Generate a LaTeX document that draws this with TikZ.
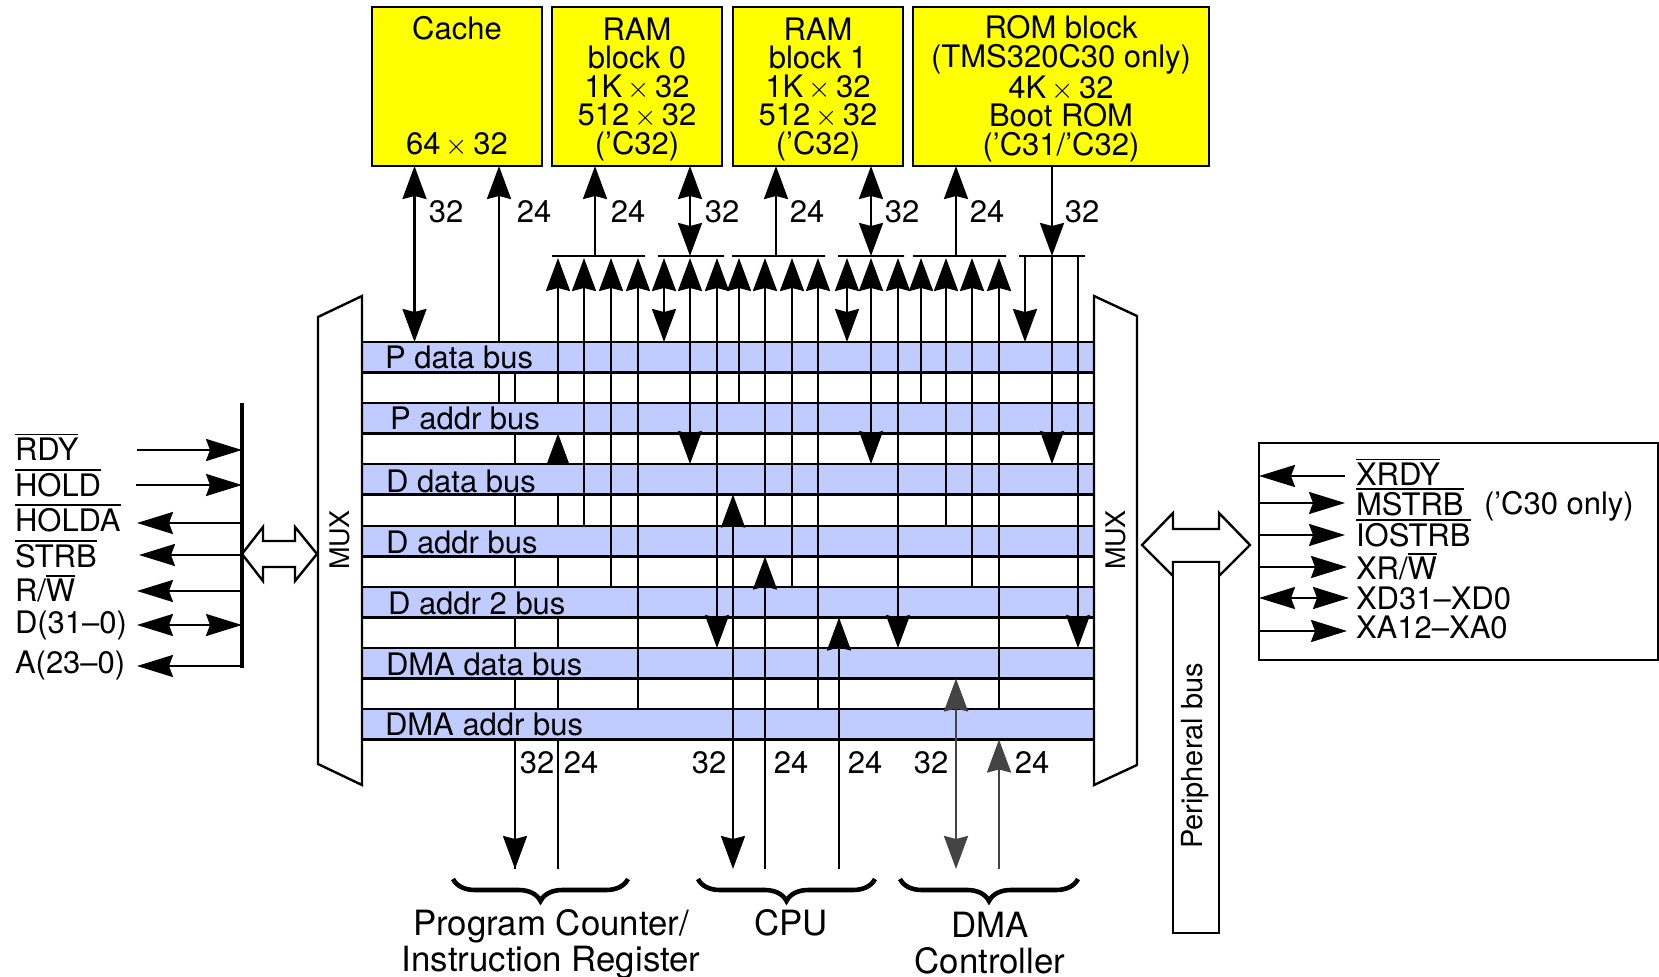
\documentclass[tikz,border=0pt]{standalone}
\usepackage{fontspec}
\setmainfont{TeX Gyre Heros}
\usetikzlibrary{arrows.meta,backgrounds,decorations.pathreplacing}
\definecolor{busblue}{RGB}{192,204,255}
\definecolor{dmagray}{RGB}{68,68,68}
\definecolor{memyellow}{RGB}{255,255,0}
\newcommand{\ovl}[1]{\leavevmode\vbox{\hrule height 0.8pt\kern 1.2pt\hbox{#1}}}
\newcommand{\blockstrut}{\rule{0pt}{13.8pt}}
\newcommand{\bytimes}{\,$\times$\,}
\begin{document}
\begin{tikzpicture}[
	x=0.5pt, y=-0.5pt, line width=1.2pt,
	>={Stealth[length=16.5pt,width=12pt,inset=1.5pt]},
	every node/.style={font=\fontsize{15.5}{14.25}\selectfont, inner sep=0pt, outer sep=0pt},
	memblock/.style={draw, fill=memyellow, align=center, minimum height=79.5pt},
	busbar/.style={draw, fill=busblue, minimum width=366pt, minimum height=15.25pt, anchor=north west},
	buslabel/.style={anchor=west},
	tapbar/.style={draw, line width=0.9pt, minimum height=0pt},
	toptap/.style={shorten >=1pt},
	backline/.style={line width=1.2pt},
	sig/.style={>={Stealth[length=18pt,width=11pt,inset=2pt]}},
	siglabel/.style={anchor=west},
	caption/.style={font=\fontsize{17.4}{18}\selectfont, align=center},
	dmaline/.style={draw=dmagray, color=dmagray},
	bracket/.style={decorate, decoration={brace, mirror, amplitude=11pt}, line width=2.3pt}
	]
	\useasboundingbox (0,0) rectangle (1659,977);
	
	% 1. MEMORY BLOCKS
	\node[memblock, minimum width=85pt] (cache) at (457,86.5) {Cache\\[43.5pt]64\bytimes 32};
	\node[memblock, minimum width=85pt] (ram0) at (637,86.5) {\blockstrut RAM\\block 0\\1K\bytimes 32\\512\bytimes 32\\('C32)};
	\node[memblock, minimum width=85pt] (ram1) at (818,86.5) {\blockstrut RAM\\block 1\\1K\bytimes 32\\512\bytimes 32\\('C32)};
	\node[memblock, minimum width=148pt] (rom) at (1061,86.5) {\blockstrut ROM block\\(TMS320C30 only)\\4K\bytimes 32\\Boot ROM\\('C31/'C32)};
	
	% 2. BUSES
	\node[busbar] (pdata) at (362,342) {};
	\node[busbar] (paddr) at (362,403) {};
	\node[busbar] (ddata) at (362,464) {};
	\node[busbar] (daddr) at (362,526) {};
	\node[busbar] (dtwo) at (362,587) {};
	\node[busbar] (dmadata) at (362,648) {};
	\node[busbar] (dmaaddr) at (362,709) {};
	\node[buslabel] (pdatatxt) at (385,357) {P data bus};
	\node[buslabel] (paddrtxt) at (390,418) {P addr bus};
	\node[buslabel] (ddatatxt) at (386,481) {D data bus};
	\node[buslabel] (daddrtxt) at (386,542) {D addr bus};
	\node[buslabel] (dtwotxt) at (388,603) {D addr 2 bus};
	\node[buslabel] (dmadatatxt) at (386,664) {DMA data bus};
	\node[buslabel] (dmaaddrtxt) at (385,724) {DMA addr bus};
	
	% 3. BARS UNDER THE MEMORY BLOCKS
	\node[tapbar, minimum width=46.5pt] (bara) at (598.5,256) {};
	\node[tapbar, minimum width=33pt] (barb) at (691,256) {};
	\node[tapbar, minimum width=46.5pt] (barc) at (778.5,256) {};
	\node[tapbar, minimum width=33pt] (bard) at (871,256) {};
	\node[tapbar, minimum width=46.5pt] (bare) at (959.5,256) {};
	\node[tapbar, minimum width=33pt] (barf) at (1052,256) {};
	\coordinate (base) at (0,869);
	
	% 4. LINES BEHIND THE BUSES
	\begin{scope}[on background layer]
		\draw[backline] (499,0 |- pdata.south) -- (499,0 |- paddr.north);
		\draw[backline] (515,0 |- base) -- (515,0 |- pdata.south);
		\draw[backline] (558,0 |- base) -- (558,0 |- ddata.north);
		\draw[backline, ->] (558,0 |- ddata.south) -- (558,0 |- paddr.south);
	\end{scope}
	
	% 5. LINES TO THE MEMORY BLOCKS
	\draw[<->] (414.5,0 |- cache.south) -- (414.5,0 |- pdata.north);
	\draw[->] (499,0 |- pdata.north) -- (499,0 |- cache.south);
	\draw[->] (595,0 |- bara.center) -- (595,0 |- ram0.south);
	\draw[<->] (690,0 |- ram0.south) -- (690,0 |- barb.center);
	\draw[->] (776,0 |- barc.center) -- (776,0 |- ram1.south);
	\draw[<->] (871,0 |- ram1.south) -- (871,0 |- bard.center);
	\draw[->] (956,0 |- bare.center) -- (956,0 |- rom.south);
	\draw[->] (1052,0 |- rom.south) -- (1052,0 |- barf.center);
	
	% 6. LINES FROM THE BARS DOWN TO THE BUSES
	\draw[->, toptap] (558,0 |- paddr.north) -- (558,0 |- bara.center);
	\draw[->, toptap] (584,0 |- daddr.north) -- (584,0 |- bara.center);
	\draw[->, toptap] (611,0 |- dtwo.north) -- (611,0 |- bara.center);
	\draw[->, toptap] (638,0 |- dmaaddr.north) -- (638,0 |- bara.center);
	\draw[<->, shorten <=1pt] (664,0 |- barb.center) -- (664,0 |- pdata.north);
	\draw[<->, shorten <=1pt] (690,0 |- barb.center) -- (690,0 |- ddata.north);
	\draw[<->, shorten <=1pt] (717,0 |- barb.center) -- (717,0 |- dmadata.north);
	\draw[->, toptap] (739,0 |- paddr.north) -- (739,0 |- barc.center);
	\draw[->, toptap] (765,0 |- daddr.north) -- (765,0 |- barc.center);
	\draw[->, toptap] (792,0 |- dtwo.north) -- (792,0 |- barc.center);
	\draw[->, toptap] (818,0 |- dmaaddr.north) -- (818,0 |- barc.center);
	\draw[<->, shorten <=1pt] (847,0 |- bard.center) -- (847,0 |- pdata.north);
	\draw[<->, shorten <=1pt] (871,0 |- bard.center) -- (871,0 |- ddata.north);
	\draw[<->, shorten <=1pt] (898,0 |- bard.center) -- (898,0 |- dmadata.north);
	\draw[->, toptap] (921,0 |- paddr.north) -- (921,0 |- bare.center);
	\draw[->, toptap] (946,0 |- daddr.north) -- (946,0 |- bare.center);
	\draw[->, toptap] (972,0 |- dtwo.north) -- (972,0 |- bare.center);
	\draw[->, toptap] (999,0 |- dmaaddr.north) -- (999,0 |- bare.center);
	\draw[->] (1025,0 |- barf.center) -- (1025,0 |- pdata.north);
	\draw[->] (1052,0 |- barf.center) -- (1052,0 |- ddata.north);
	\draw[->] (1078,0 |- barf.center) -- (1078,0 |- dmadata.north);
	
	% 7. LINES FROM THE BOTTOM UNITS
	\draw[<->] (733,0 |- base) -- (733,0 |- ddata.south);
	\draw[->] (765,0 |- base) -- (765,0 |- daddr.south);
	\draw[->] (839,0 |- base) -- (839,0 |- dtwo.south);
	\draw[<->, dmaline] (956,0 |- base) -- (956,0 |- dmadata.south);
	\draw[->, dmaline] (999,0 |- base) -- (999,0 |- dmaaddr.south);
	\draw[->] (515,0 |- dmaaddr.south) -- (515,0 |- base);
	
	% 8. WIDTH LABELS
	\node (ncache) at (446,212) {32};
	\node (npa) at (534,212) {24};
	\node (nra) at (628,212) {24};
	\node (nrb) at (722,212) {32};
	\node (nrc) at (807,212) {24};
	\node (nrd) at (902,212) {32};
	\node (nre) at (987,212) {24};
	\node (nrf) at (1082,212) {32};
	\node (nba) at (537,763) {32};
	\node (nbb) at (581,763) {24};
	\node (nbc) at (709,763) {32};
	\node (nbd) at (791,763) {24};
	\node (nbe) at (865,763) {24};
	\node (nbf) at (931,763) {32};
	\node (nbg) at (1032,763) {24};
	
	% 9. MUX AND DOUBLE ARROWS
	\draw[fill=white] (362,296) -- (318,317) -- (318,764) -- (362,785) -- cycle;
	\draw[fill=white] (1094,296) -- (1137,316) -- (1137,765) -- (1094,785) -- cycle;
	\node[rotate=90, font=\fontsize{13.5}{14}\selectfont] (muxl) at (340,540) {MUX};
	\node[rotate=90, font=\fontsize{13.5}{14}\selectfont] (muxr) at (1116,540) {MUX};
	\draw[fill=white] (242,554) -- (263,527) -- (263,541) -- (295,541) -- (295,527) -- (317,554) -- (295,581) -- (295,567) -- (263,567) -- (263,581) -- cycle;
	\draw[fill=white] (1142,545) -- (1173,513) -- (1173,529) -- (1219,529) -- (1219,513) -- (1250,545) -- (1219,576) -- (1219,562) -- (1173,562) -- (1173,576) -- cycle;
	\node[draw, fill=white, minimum width=23pt, minimum height=185.5pt] (perbus) at (1196,747.5) {};
	\node[rotate=90, font=\fontsize{14.5}{14}\selectfont] (perbustxt) at (1195,756) {Peripheral bus};
	
	% 10. LEFT SIGNALS
	\node[draw, minimum height=131.5pt] (leftbus) at (242,535.5) {};
	\node[siglabel] (rdy) at (15,447) {\ovl{RDY}};
	\node[siglabel] (hold) at (15,483) {\ovl{HOLD}};
	\node[siglabel] (holda) at (15,518) {\ovl{HOLDA}};
	\node[siglabel] (strb) at (15,554) {\ovl{STRB}};
	\node[siglabel] (rw) at (15,589) {R/\ovl{W}};
	\node[siglabel] (dbus) at (15,625) {D(31–0)};
	\node[siglabel] (abus) at (15,665) {A(23–0)};
	\coordinate (rdyin) at (137,450);
	\coordinate (holdin) at (136,485);
	\coordinate (holdaout) at (137,523);
	\coordinate (strbout) at (139,555);
	\coordinate (rwout) at (137,591);
	\coordinate (dout) at (137,625);
	\coordinate (aout) at (137,666);
	\draw[->, sig] (rdyin) -- (leftbus |- rdyin);
	\draw[->, sig] (holdin) -- (leftbus |- holdin);
	\draw[<-, sig] (holdaout) -- (leftbus |- holdaout);
	\draw[<-, sig] (strbout) -- (leftbus |- strbout);
	\draw[<-, sig] (rwout) -- (leftbus |- rwout);
	\draw[<->, sig] (dout) -- (leftbus |- dout);
	\draw[<-, sig] (aout) -- (leftbus |- aout);
	
	% 11. RIGHT SIGNALS
	\node[draw, minimum width=199.5pt, minimum height=108.5pt] (extbox) at (1458.5,551.5) {};
	\node[siglabel] (xrdy) at (1356,472) {\ovl{XRDY}};
	\node[siglabel] (mstrb) at (1356,502) {\ovl{MSTRB}};
	\node[siglabel] (iostrb) at (1356,533) {\ovl{IOSTRB}};
	\node[siglabel] (xrw) at (1356,567) {XR/\ovl{W}};
	\node[siglabel] (xd) at (1356,598) {XD31–XD0};
	\node[siglabel] (xa) at (1356,627) {XA12–XA0};
	\node[siglabel] (czero) at (1484,506) {('C30 only)};
	\coordinate (xrdyin) at (1345,476);
	\coordinate (mstrbout) at (1345,503);
	\coordinate (iostrbout) at (1345,535);
	\coordinate (xrwout) at (1347,567);
	\coordinate (xdout) at (1349,598);
	\coordinate (xaout) at (1347,631);
	\draw[<-, sig] (extbox.west |- xrdyin) -- (xrdyin);
	\draw[->, sig] (extbox.west |- mstrbout) -- (mstrbout);
	\draw[->, sig] (extbox.west |- iostrbout) -- (iostrbout);
	\draw[->, sig] (extbox.west |- xrwout) -- (xrwout);
	\draw[<->, sig] (extbox.west |- xdout) -- (xdout);
	\draw[->, sig] (extbox.west |- xaout) -- (xaout);
	
	% 12. BRACES AND UNIT NAMES
	\draw[bracket] (453,879) -- (628,879);
	\draw[bracket] (698,879) -- (875,879);
	\draw[bracket] (900,879) -- (1078,879);
	\node[caption] (pcir) at (551,944) {Program Counter/\\Instruction Register};
	\node[caption] (cpu) at (791,923) {CPU};
	\node[caption] (dma) at (990,943) {DMA\\Controller};
\end{tikzpicture}
\end{document}
